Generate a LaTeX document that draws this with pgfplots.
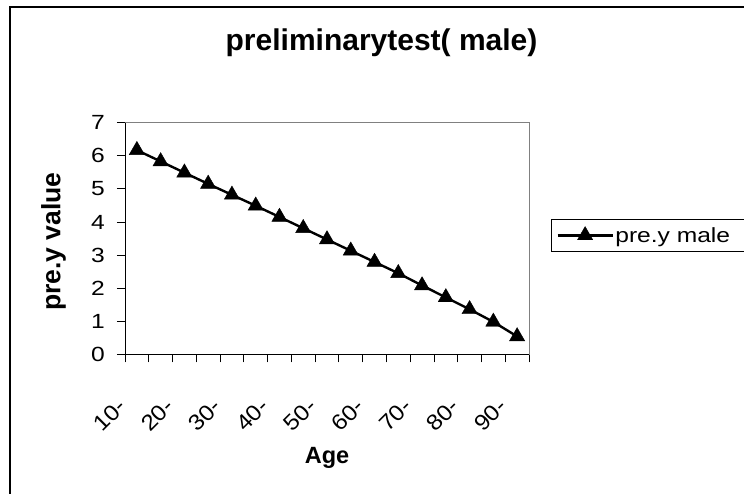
\documentclass[border=0pt]{standalone}
\usepackage{pgfplots}
\pgfplotsset{compat=1.18}
\usepackage{fontspec}
\setmainfont{Liberation Sans}
\newfontfamily\legfont[FakeStretch=1.2]{Liberation Sans}
\newfontfamily\xtfont[FakeStretch=1.1]{Liberation Sans}

\begin{document}
\begin{tikzpicture}[x=1pt,y=1pt]
\useasboundingbox (0,0) rectangle (744,493);
\fill[white] (0,0) rectangle (744,493);
\draw[black, line width=1.2pt] (10,486) rectangle (800,-50);
\begin{axis}[
  at={(125pt,138.7pt)}, anchor=south west,
  scale only axis, width=404pt, height=231.6pt,
  xmin=-0.5, xmax=16.5, ymin=0, ymax=7,
  ytick={0,1,...,7},
  xtick={0,2,...,16},
  xticklabels={10-,20-,30-,40-,50-,60-,70-,80-,90-},
  major x tick style={draw=none},
  minor xtick={-0.5,0.5,...,16.5},
  tick align=outside,
  xtick pos=bottom, ytick pos=left,
  major tick length=8pt, minor tick length=8pt,
  tick style={black, line width=0.8pt},
  axis line style={gray, line width=0.8pt},
  /pgf/number format/assume math mode=true,
  yticklabel style={font=\legfont\fontsize{20.5}{24}\selectfont, anchor=east, inner sep=0pt, xshift=-12pt},
  xticklabel style={font=\xtfont\fontsize{22}{26}\selectfont, xshift=-14.5pt, rotate=45, anchor=east, inner sep=0pt},
  xticklabel shift=40pt,
  title={preliminarytest( male)},
  title style={font=\bfseries\fontsize{30}{34}\selectfont, at={(axis description cs:0.635,1.285)}, anchor=base, inner sep=0pt},
  xlabel={Age},
  xlabel style={font=\bfseries\fontsize{23.5}{28}\selectfont, at={(axis description cs:0.5,-0.3999)}, anchor=north, inner sep=0pt},
  ylabel={pre.y value},
  ylabel style={font=\bfseries\fontsize{26.5}{30}\selectfont, at={(axis description cs:-0.146,0.487)}, anchor=south, inner sep=0pt},
  legend style={at={(axis description cs:1.0545,0.5829)}, anchor=north west, draw=black, line width=0.8pt,
    font=\legfont\fontsize{20.5}{24}\selectfont, inner xsep=5pt, inner ysep=3pt,
    nodes={inner xsep=1.5pt, inner ysep=4.5pt}},
  legend cell align=left,
  legend image code/.code={\draw[mark repeat=2,mark phase=2,#1] plot coordinates {(0pt,0pt) (27.5pt,0pt) (55pt,0pt)};},
]
\draw[black, line width=1pt] (rel axis cs:0,1) -- (rel axis cs:0,0) -- (rel axis cs:1,0);
\addplot[black, line width=2.4pt, mark=triangle*, mark size=8.8pt, mark options={solid, line width=0.4pt}]
coordinates {
(0,6.17) (1,5.83) (2,5.49) (3,5.15) (4,4.82) (5,4.49) (6,4.15) (7,3.81) (8,3.47)
(9,3.13) (10,2.79) (11,2.45) (12,2.08) (13,1.72) (14,1.36) (15,0.98) (16,0.54)
};
\addlegendentry{pre.y male\hspace*{30pt}}
\end{axis}
\end{tikzpicture}
\end{document}
